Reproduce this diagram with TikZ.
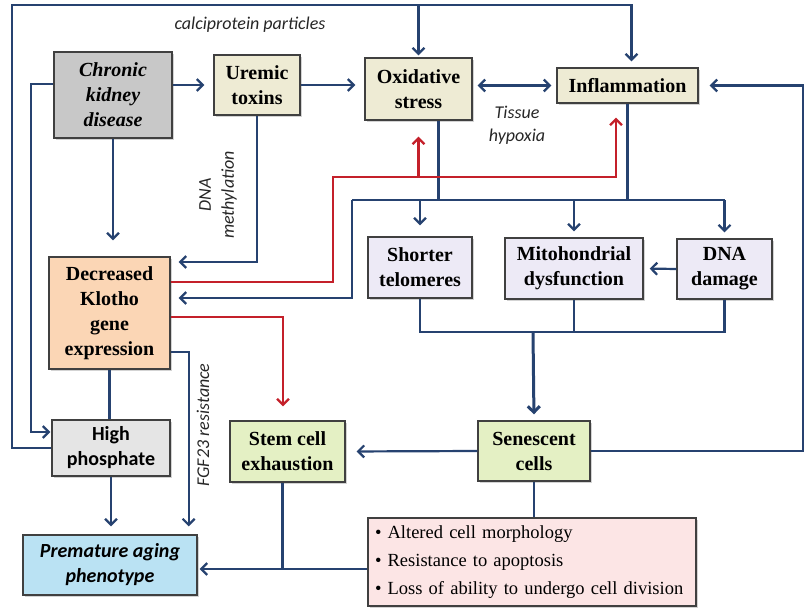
\documentclass[tikz,border=0pt]{standalone}
\usepackage{fontspec}
\setmainfont{Liberation Serif}
\setsansfont{Carlito}
\usepackage{tikz}
\usetikzlibrary{arrows.meta, shadows}
\definecolor{linkblue}{RGB}{38,66,112}
\definecolor{linkred}{RGB}{196,32,42}
\definecolor{ckdgray}{RGB}{200,200,200}
\definecolor{tanbox}{RGB}{238,235,212}
\definecolor{lavbox}{RGB}{237,234,246}
\definecolor{peachbox}{RGB}{251,214,181}
\definecolor{greenbox}{RGB}{228,240,196}
\definecolor{graybox}{RGB}{229,229,229}
\definecolor{bluebox}{RGB}{186,226,243}
\definecolor{pinkbox}{RGB}{252,229,229}

\begin{document}
\begin{tikzpicture}[x=1pt, y=-1pt,
    >={Straight Barb[length=6pt, width=12pt]},
    box/.style={draw=black!75, line width=1.3pt, align=center, inner sep=2pt,
        font=\fontsize{20}{25}\selectfont\bfseries,
        drop shadow={shadow xshift=1.5pt, shadow yshift=-1.5pt, opacity=0.35}},
    link/.style={linkblue, line width=2.2pt, ->, shorten >=6pt},
    wire/.style={linkblue, line width=2.2pt},
    redlink/.style={linkred, line width=2.2pt, ->, shorten >=14pt},
    lbl/.style={font=\sffamily\itshape\fontsize{18}{23}\selectfont, text=black!85, align=center}]
    \useasboundingbox (0,0) rectangle (806,608);

    % Top row
    \node[box, fill=ckdgray, minimum width=118pt, minimum height=86pt, font=\fontsize{20}{25}\selectfont\bfseries\itshape] at (113,95) (ckd) {Chronic\\kidney\\disease};
    \node[box, fill=tanbox, minimum width=86pt, minimum height=60pt] at (257,85) (uremic) {Uremic\\toxins};
    \node[box, fill=tanbox, minimum width=107pt, minimum height=62pt] at (418.5,89) (oxid) {Oxidative\\stress};
    \node[box, fill=tanbox, minimum width=141pt, minimum height=35pt] at (627.5,85.5) (inflam) {Inflammation};

    % Middle row
    \node[box, fill=peachbox, minimum width=121pt, minimum height=112pt] at (109.5,313) (klotho) {Decreased\\Klotho\\gene\\expression};
    \node[box, fill=lavbox, minimum width=104pt, minimum height=61pt] at (420,267.5) (telo) {Shorter\\telomeres};
    \node[box, fill=lavbox, minimum width=138pt, minimum height=61pt] at (574,268.5) (mito) {Mitohondrial\\dysfunction};
    \node[box, fill=lavbox, minimum width=95pt, minimum height=60pt] at (724.5,269) (dna) {DNA\\damage};

    % Lower rows
    \node[box, fill=graybox, minimum width=118pt, minimum height=56pt, font=\sffamily\bfseries\fontsize{20}{25}\selectfont] at (111,448) (hp) {High\\phosphate};
    \node[box, fill=greenbox, minimum width=115pt, minimum height=61pt] at (287.5,451.5) (stem) {Stem cell\\exhaustion};
    \node[box, fill=greenbox, minimum width=112pt, minimum height=60pt] at (534,451) (sen) {Senescent\\cells};
    \node[box, fill=bluebox, minimum width=174pt, minimum height=60pt, font=\sffamily\bfseries\itshape\fontsize{20}{25}\selectfont] at (110,565) (prem) {Premature aging\\phenotype};
    \node[box, fill=pinkbox, minimum width=328pt, minimum height=88pt, text width=314pt, align=left, font=\fontsize{18.5}{28}\selectfont] at (532,562) (feat) {\textbullet\ Altered cell morphology\\\textbullet\ Resistance to apoptosis\\\textbullet\ Loss of ability to undergo cell division};

    % Labels
    \node[lbl] at (250,25) (calci) {calciprotein particles};
    \node[lbl] at (517,125) (hypox) {Tissue\\hypoxia};
    \node[lbl, rotate=90] at (218,195) (methyl) {DNA\\methylation};
    \node[lbl, rotate=90] at (203,425) (fgf) {FGF23 resistance};

    % Outer loop
    \coordinate (topL) at (12,5);
    \draw[link] (hp.west) -| (topL) -| ([xshift=4pt]inflam.north);
    \draw[link, shorten >=2pt] (oxid.north |- topL) -- (oxid.north);
    \draw[link, shorten >=1pt] ([yshift=11pt]ckd.west) -- ++(-22,0) |- ([yshift=16pt]hp.west);

    % Top row arrows
    \draw[link, shorten >=9pt] (ckd.east |- uremic.west) -- (uremic.west);
    \draw[link, shorten >=9pt] (uremic.east) -- (uremic.east -| oxid.west);
    \draw[link, <->, shorten <=5pt, shorten >=5pt] (oxid.east |- inflam.west) -- (inflam.west);
    \draw[link, shorten >=11pt] (sen.east) -- ++(212,0) |- (inflam.east);

    % Bus to the cell boxes
    \coordinate (busL) at (352,200);
    \draw[wire] (busL) -- (busL -| dna.north);
    \draw[wire] ([xshift=20pt]oxid.south) -- ([xshift=20pt]oxid.south |- busL);
    \draw[wire] (inflam.south) -- (inflam.south |- busL);
    \draw[link, shorten >=11pt] (telo.north |- busL) -- (telo.north);
    \draw[link] (mito.north |- busL) -- (mito.north);
    \draw[link] (dna.north |- busL) -- (dna.north);
    \draw[link, shorten >=8pt] (busL) |- ([yshift=15pt]klotho.east);
    \draw[link] (dna.west) -- (mito.east);

    % Bus to senescent cells
    \coordinate (busB) at (533,332);
    \draw[wire] (telo.south) -- (telo.south |- busB) -- (dna.south |- busB) -- (dna.south);
    \draw[wire] (mito.south) -- (mito.south |- busB);
    \draw[link, line width=3pt] (busB) -- (sen.north);
    \draw[link, shorten >=11pt] (sen.west) -- (stem.east);
    \draw[wire] (sen.south) -- (sen.south |- feat.north);

    % To the phenotype
    \draw[link, shorten >=2pt] ([yshift=-7pt]feat.west) -- ([yshift=-7pt]feat.west -| prem.east);
    \draw[wire] ([xshift=-5pt]stem.south) -- ([xshift=-5pt,yshift=-7pt]stem.south |- feat.west);
    \draw[link, shorten >=8pt] (hp.south) -- (hp.south |- prem.north);
    \draw[link, shorten >=8pt] ([yshift=-39pt]klotho.east) -| ([xshift=-9pt]prem.north east);
    \draw[wire] (klotho.south) -- (klotho.south |- hp.north);

    % From CKD and toxins to Klotho
    \draw[link, shorten >=16pt] (ckd.south) -- (ckd.south |- klotho.north);
    \draw[link, shorten >=8pt] (uremic.south) |- ([yshift=51pt]klotho.east);

    % Red arrows from Klotho
    \coordinate (redC) at (333,177);
    \draw[redlink] ([yshift=31pt]klotho.east) -| (redC) -| ([xshift=-11.5pt]inflam.south);
    \draw[redlink, shorten >=16pt] (oxid.south |- redC) -- (oxid.south);
    \draw[redlink] ([yshift=-4pt]klotho.east) -| ([xshift=-4.5pt]stem.north);
\end{tikzpicture}
\end{document}
